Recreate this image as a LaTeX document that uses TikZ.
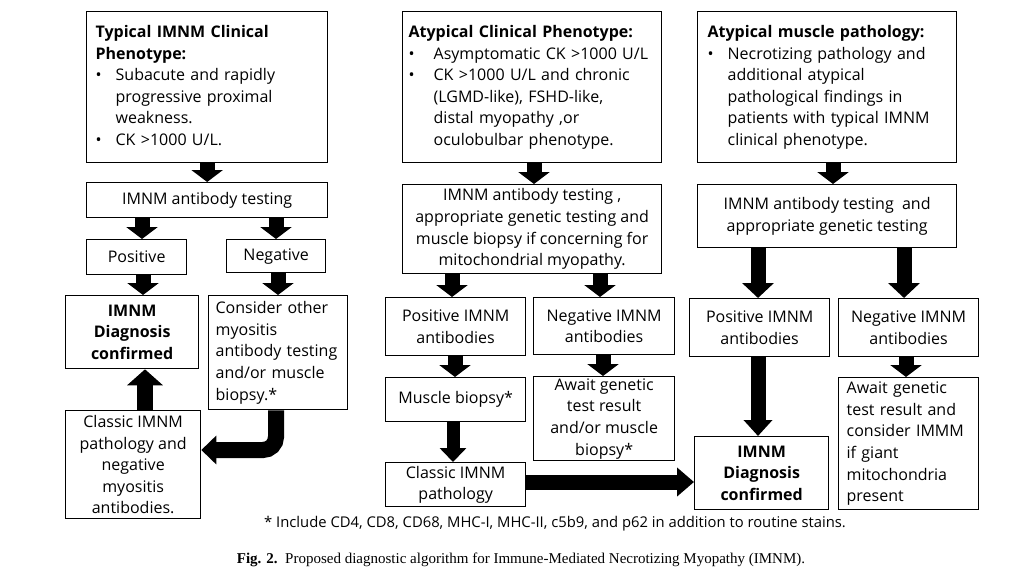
\documentclass[tikz,border=0pt]{standalone}
\usepackage{fontspec}
\setmainfont{Open Sans}
\newfontfamily\capfont{Liberation Serif}
\usetikzlibrary{arrows.meta}
\tikzset{
  box/.style={draw=black, line width=1.3pt, fill=white, inner sep=0pt, anchor=north west,
    font=\fontsize{16}{21.6}\selectfont, align=center},
  lbox/.style={box, align=left},
  fat/.style={line width=15pt, -{Triangle[width=31pt,length=12pt]}},
  fatb/.style={line width=16pt, -{Triangle[width=35pt,length=16pt]}},
  fatc/.style={line width=13pt, -{Triangle[width=26pt,length=14pt]}},
}
\newcommand{\hd}[1]{\multicolumn{2}{@{}l@{}}{\bfseries #1}}
\begin{document}
\begin{tikzpicture}[x=1pt,y=-1pt]
\useasboundingbox (0,0) rectangle (1027,575);
\fill[white] (0,0) rectangle (1027,575);

% column 1
\node[lbox, minimum height=151pt, text width=223pt, inner xsep=9pt] (t1) at (86,11)
 {\begin{tabular}{@{}p{20pt}@{}l@{}}\hd{Typical IMNM Clinical}\\ \hd{Phenotype:}\\
  \textbullet & Subacute and rapidly\\ & progressive proximal\\ & weakness.\\
  \textbullet & CK >1000 U/L.\end{tabular}};
\node[box, minimum width=241pt, minimum height=35pt] (t2) at (86,182) {IMNM antibody testing};
\node[box, minimum width=100pt, minimum height=35pt] (t3) at (86,239) {Positive};
\node[box, minimum width=99pt, minimum height=33pt] (t4) at (226,239) {Negative};
\node[box, minimum width=133pt, minimum height=73pt, font=\fontsize{16}{21.6}\selectfont\bfseries] (t5) at (65,295) {IMNM\\Diagnosis\\confirmed};
\node[lbox, text width=125pt, inner xsep=7pt, minimum height=114pt] (t6) at (208,295) {Consider other\\myositis\\antibody testing\\and/or muscle\\biopsy.*};
\node[box, minimum width=135pt, minimum height=108pt] (t7) at (65,410) {Classic IMNM\\pathology and\\negative\\myositis\\antibodies.};

% column 2
\node[lbox, minimum height=151pt, text width=247pt, inner xsep=6pt] (a1) at (402,11)
 {\begin{tabular}{@{}p{25pt}@{}l@{}}\hd{Atypical Clinical Phenotype:}\\
  \textbullet & Asymptomatic CK >1000 U/L\\
  \textbullet & CK >1000 U/L and chronic\\ & (LGMD-like), FSHD-like,\\ & distal myopathy ,or\\ & oculobulbar phenotype.\end{tabular}};
\node[box, minimum width=259pt, minimum height=89pt] (a2) at (402,184) {IMNM antibody testing ,\\appropriate genetic testing and\\muscle biopsy if concerning for\\mitochondrial myopathy.};
\node[box, minimum width=140pt, minimum height=58pt] (a3) at (385,297) {Positive IMNM\\antibodies};
\node[box, minimum width=141pt, minimum height=57pt] (a4) at (533,297) {Negative IMNM\\antibodies};
\node[box, minimum width=140pt, minimum height=44pt] (a5) at (385,377) {Muscle biopsy*};
\node[box, minimum width=141pt, minimum height=84pt] (a6) at (533,376) {Await genetic\\test result\\and/or muscle\\biopsy*};
\node[box, minimum width=140pt, minimum height=44pt] (a7) at (385,462) {Classic IMNM\\pathology};

% column 3
\node[lbox, minimum height=151pt, text width=239pt, inner xsep=10pt] (m1) at (697,11)
 {\begin{tabular}{@{}p{20pt}@{}l@{}}\hd{Atypical muscle pathology:}\\
  \textbullet & Necrotizing pathology and\\ & additional atypical\\ & pathological findings in\\ & patients with typical IMNM\\ & clinical phenotype.\end{tabular}};
\node[box, minimum width=259pt, minimum height=63pt] (m2) at (697,184) {IMNM antibody testing\ \ and\\appropriate genetic testing};
\node[box, minimum width=140pt, minimum height=58pt] (m3) at (689,298) {Positive IMNM\\antibodies};
\node[box, minimum width=140pt, minimum height=58pt] (m4) at (838,298) {Negative IMNM\\antibodies};
\node[box, minimum width=134pt, minimum height=73pt, font=\fontsize{16}{21.6}\selectfont\bfseries] (d2) at (694,436) {IMNM\\Diagnosis\\confirmed};
\node[lbox, text width=124pt, inner xsep=8pt, minimum height=132pt] (m5) at (838,377) {Await genetic\\test result and\\consider IMMM\\if giant\\mitochondria\\present};

% arrow positions
\coordinate (x1) at (142,0); \coordinate (x2) at (276,0);
\coordinate (x3) at (143,0); \coordinate (x4) at (278,0);
\coordinate (x5) at (145,0); \coordinate (x6) at (276,0);
\coordinate (x7) at (534,0); \coordinate (x8) at (452,0); \coordinate (x9) at (600,0);
\coordinate (x10) at (455,0); \coordinate (x11) at (453,0); \coordinate (x12) at (603,0);
\coordinate (x13) at (833,0); \coordinate (x14) at (758,0); \coordinate (x15) at (904,0);
\coordinate (x16) at (906,0);
\coordinate (yh) at (0,482); \coordinate (yc) at (0,450);

% arrows
\draw[fat] (t1.south) -- (t2.north);
\draw[fat] (t2.south -| x1) -- (t3.north -| x1);
\draw[fat] (t2.south -| x2) -- (t4.north -| x2);
\draw[fat] (t3.south -| x3) -- (t5.north -| x3);
\draw[fat] (t4.south -| x4) -- (t6.north -| x4);
\draw[fatb] (t7.north -| x5) -- (t5.south -| x5);
\draw[line width=16pt, rounded corners=13pt, -{Triangle[width=28pt,length=15pt]}] (t6.south -| x6) |- (t7.east |- yc);

\draw[fat] (a1.south -| x7) -- (a2.north -| x7);
\draw[fat] (a2.south -| x8) -- (a3.north -| x8);
\draw[fat] (a2.south -| x9) -- (a4.north -| x9);
\draw[fat] (a3.south -| x10) -- (a5.north -| x10);
\draw[fatc] (a5.south -| x11) -- (a7.north -| x11);
\draw[fat] (a4.south -| x12) -- (a6.north -| x12);
\draw[line width=15pt, -{Triangle[width=28pt,length=17pt]}] (a7.east |- yh) -- (d2.west |- yh);

\draw[fat] (m1.south -| x13) -- (m2.north -| x13);
\draw[fat, -{Triangle[width=31pt,length=15pt]}] (m2.south -| x14) -- (m3.north -| x14);
\draw[fat, -{Triangle[width=31pt,length=15pt]}] (m2.south -| x15) -- (m4.north -| x15);
\draw[fat, -{Triangle[width=28pt,length=16pt]}] (m3.south -| x14) -- (d2.north -| x14);
\draw[fat] (m4.south -| x16) -- (m5.north -| x16);

% footnote and caption
\node[font=\fontsize{14.8}{17}\selectfont] (fn) at (555,524) {* Include CD4, CD8, CD68, MHC-I, MHC-II, c5b9, and p62 in addition to routine stains.};
\node[font=\capfont\fontsize{15}{17}\selectfont] (cap) at (521,560) {\textbf{Fig. 2.}\ \ Proposed diagnostic algorithm for Immune-Mediated Necrotizing Myopathy (IMNM).};
\end{tikzpicture}
\end{document}
